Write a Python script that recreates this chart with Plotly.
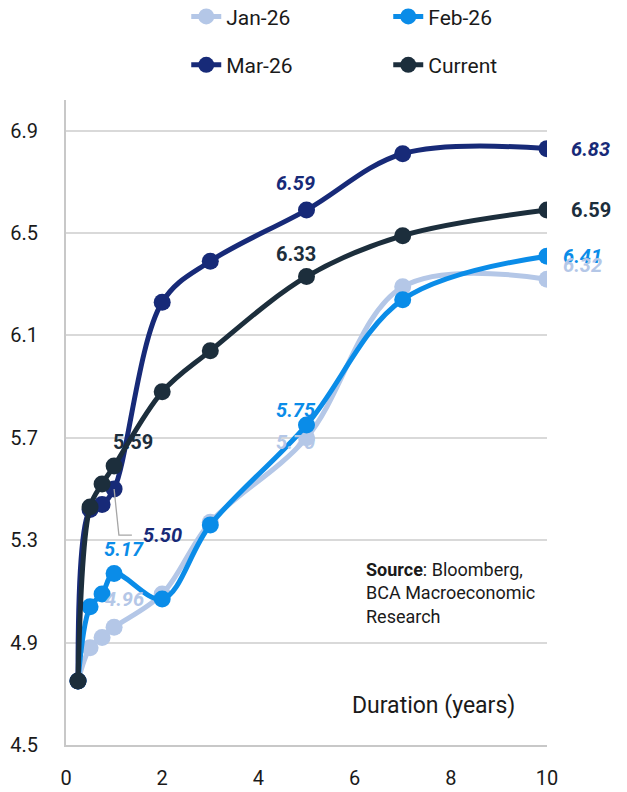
import plotly.graph_objects as go

durations = [0.25, 0.5, 0.75, 1, 2, 3, 5, 7, 10]
jan26 = [4.75, 4.88, 4.92, 4.96, 5.09, 5.37, 5.70, 6.29, 6.32]
feb26 = [4.75, 5.04, 5.09, 5.17, 5.07, 5.36, 5.75, 6.24, 6.41]
mar26 = [4.75, 5.42, 5.44, 5.50, 6.23, 6.39, 6.59, 6.81, 6.83]
current = [4.75, 5.43, 5.52, 5.59, 5.88, 6.04, 6.33, 6.49, 6.59]

series = [
    ("Jan-26", jan26, "#B4C7E7", "legend"),
    ("Feb-26", feb26, "#0A8CE8", "legend"),
    ("Mar-26", mar26, "#172A78", "legend2"),
    ("Current", current, "#1C2E3C", "legend2"),
]

x_ticks = [0, 2, 4, 6, 8, 10]
y_ticks = [4.5, 4.9, 5.3, 5.7, 6.1, 6.5, 6.9]

FONT = "Roboto, sans-serif"

fig = go.Figure()
for name, vals, color, lg in series:
    fig.add_trace(go.Scatter(
        x=durations, y=vals, name=name, mode="lines+markers",
        line=dict(color=color, width=5, shape="spline", smoothing=1.0),
        marker=dict(color=color, size=17),
        legend=lg,
    ))

# data labels: (series values, color, index, xshift, yshift, xanchor, italic)
labels = [
    (mar26, "#172A78", 8, 22, 0, "left", True),
    (current, "#1C2E3C", 8, 22, 0, "left", False),
    (feb26, "#0A8CE8", 8, 14, 0, "left", True),
    (jan26, "#B4C7E7", 8, 14, 14, "left", True),
    (mar26, "#172A78", 6, -11, 27, "center", True),
    (current, "#1C2E3C", 6, -11, 23, "center", False),
    (jan26, "#B4C7E7", 6, -11, -4, "center", True),
    (feb26, "#0A8CE8", 6, -11, 15, "center", True),
    (current, "#1C2E3C", 3, 19, 24, "center", False),
    (jan26, "#B4C7E7", 3, 10, 28, "center", True),
    (feb26, "#0A8CE8", 3, 10, 25, "center", True),
    (mar26, "#172A78", 3, 27, -46, "left", True),
]
for vals, color, i, xs, ys, xa, it in labels:
    txt = f"<b>{vals[i]:.2f}</b>"
    if it:
        txt = f"<i>{txt}</i>"
    fig.add_annotation(x=durations[i], y=vals[i], text=txt, showarrow=False,
                       xshift=xs, yshift=ys, xanchor=xa, yanchor="middle",
                       font=dict(family=FONT, size=20, color=color))

# leader line for Mar-26 1y label
fig.add_shape(type="path", xref="x", yref="y",
              path=f"M {durations[3]},{mar26[3]} L 1.1,5.32 L 1.37,5.32",
              line=dict(color="#A6A6A6", width=1.3))

fig.add_annotation(xref="paper", yref="paper", x=0.62, y=0.292, xanchor="left", yanchor="top",
                   text="<b>Source</b>: Bloomberg,<br>BCA Macroeconomic<br>Research",
                   showarrow=False, align="left",
                   font=dict(family=FONT, size=18, color="#1a1a1a"))
fig.add_annotation(xref="paper", yref="paper", x=0.763, y=0.062, xanchor="center", yanchor="middle",
                   text="Duration (years)", showarrow=False,
                   font=dict(family=FONT, size=23, color="#1a1a1a"))

fig.update_layout(
    width=627, height=792,
    margin=dict(l=66, r=80, t=100, b=47, autoexpand=False),
    paper_bgcolor="white", plot_bgcolor="white",
    font=dict(family=FONT, color="#1a1a1a", size=20),
    legend=dict(orientation="h", x=0.25, y=1.129, xanchor="left", yanchor="middle",
                entrywidth=157, font=dict(size=21, family=FONT)),
    legend2=dict(orientation="h", x=0.25, y=1.054, xanchor="left", yanchor="middle",
                 entrywidth=157, font=dict(size=21, family=FONT)),
    xaxis=dict(range=[0, 10], tickvals=x_ticks, ticktext=[str(v) for v in x_ticks],
               showgrid=False, zeroline=False, showline=True, linecolor="#C8C8C8", linewidth=2,
               ticks="", ticklabelstandoff=14, tickfont=dict(size=20)),
    yaxis=dict(range=[4.5, 7.02], tickvals=y_ticks, ticktext=[f"{v:.1f}" for v in y_ticks],
               showgrid=True, gridcolor="#D9D9D9", gridwidth=2, zeroline=False,
               showline=True, linecolor="#C8C8C8", linewidth=2,
               ticks="", ticklabelstandoff=22, tickfont=dict(size=20)),
)

fig.write_html("out.html")
